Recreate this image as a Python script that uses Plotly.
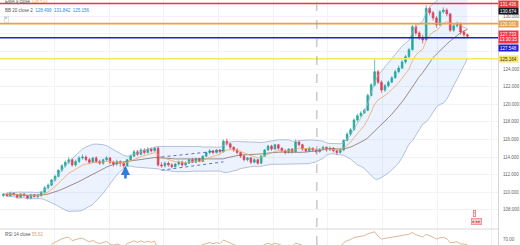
import plotly.graph_objects as go
import pandas as pd

# ---------------- data ----------------
closes = [109.8, 109.6, 109.9, 109.7, 109.4, 109.8, 109.6, 109.3, 109.7, 109.5, 109.6,
          110.0, 110.5, 110.8, 111.4, 111.8, 112.5, 113.0, 113.4, 113.7, 113.1, 113.5, 113.9,
          114.0, 113.7, 113.4, 113.9, 113.5, 113.3, 113.7, 113.9, 113.4, 113.2, 113.5, 113.3, 113.0,
          113.7, 114.1, 114.6, 114.3, 114.8, 114.5, 114.9, 114.7, 115.0,
          113.1,
          113.0, 113.3, 113.1, 112.9, 113.2, 113.4, 113.1, 113.3, 113.7, 113.4, 113.8, 113.5,
          114.1, 114.5, 114.7, 114.5, 114.8, 114.6,
          115.8,
          115.5, 115.1, 114.8, 114.5, 114.1, 113.7, 113.9, 113.4, 113.7, 113.3,
          114.1, 114.8, 115.25, 114.9, 115.4, 115.0,
          114.7, 114.5, 114.9, 114.6, 115.7, 115.4,
          114.9, 114.7, 115.0, 114.8, 114.6, 114.9, 115.1, 114.8, 115.0, 114.7, 114.5, 114.8,
          115.9, 116.6, 117.1,
          118.2, 118.7, 119.0, 119.3,
          121.0, 122.2, 123.7,
          122.5, 121.6,
          122.1, 122.5, 123.0, 123.7, 124.1, 124.8, 125.4, 126.2,
          128.8,
          128.1, 127.6, 127.3,
          130.9,
          130.4, 129.8, 129.0,
          130.5, 130.7, 130.25,
          128.4,
          128.9, 129.1, 128.2,
          127.9, 127.73]

highs = [109.9, 109.95, 110.0, 110.0, 109.8, 109.9, 109.9, 109.7, 109.8, 109.8, 109.8,
         110.1, 110.7, 111.0, 111.5, 112.0, 112.6, 113.2, 113.6, 114.0, 113.9, 113.7, 114.1,
         114.3, 114.2, 113.9, 114.0, 114.1, 113.7, 113.8, 114.1, 114.0, 113.6, 113.7, 113.6, 113.4,
         113.8, 114.3, 114.8, 114.8, 115.0, 115.0, 115.1, 115.1, 115.2,
         115.2,
         113.4, 113.5, 113.5, 113.3, 113.3, 113.6, 113.6, 113.5, 113.8, 113.9, 113.9, 113.9,
         114.2, 114.6, 114.9, 114.8, 114.9, 114.9,
         116.0,
         116.1, 115.6, 115.2, 115.0, 114.6, 114.3, 114.0, 114.0, 113.9, 113.8,
         114.2, 114.9, 115.4, 115.4, 115.5, 115.5,
         115.1, 114.9, 115.0, 115.0, 116.0, 115.9,
         115.5, 115.0, 115.2, 115.1, 114.9, 115.0, 115.3, 115.2, 115.2, 115.1, 114.8, 115.0,
         116.0, 116.8, 117.3,
         118.4, 118.9, 119.2, 119.5,
         121.2, 122.4, 125.1,
         123.9, 122.7,
         122.3, 122.7, 123.2, 123.9, 124.4, 125.0, 125.6, 126.4,
         129.0,
         129.1, 128.3, 127.9,
         131.25,
         131.1, 130.6, 130.0,
         130.7, 131.0, 130.9,
         130.4,
         129.2, 129.4, 129.3,
         128.4, 128.0]

lows = [109.5, 109.5, 109.5, 109.6, 109.3, 109.3, 109.5, 109.2, 109.2, 109.4, 109.3,
        109.5, 109.9, 110.3, 110.7, 111.2, 111.7, 112.3, 112.8, 113.2, 112.9, 112.9, 113.3,
        113.7, 113.5, 113.2, 113.3, 113.3, 113.1, 113.1, 113.5, 113.2, 112.9, 113.0, 112.9, 112.6,
        112.9, 113.6, 114.0, 114.1, 114.2, 114.3, 114.4, 114.5, 114.6,
        112.9,
        112.8, 112.8, 112.9, 112.7, 112.8, 113.0, 112.9, 113.0, 113.2, 113.3, 113.3, 113.4,
        113.4, 114.0, 114.3, 114.3, 114.4, 114.4,
        114.5,
        115.3, 114.9, 114.6, 114.3, 113.9, 113.5, 113.5, 113.2, 113.3, 113.1,
        113.2, 114.0, 114.7, 114.7, 114.8, 114.8,
        114.5, 114.3, 114.4, 114.4, 114.5, 115.2,
        114.7, 114.5, 114.6, 114.6, 114.4, 114.5, 114.8, 114.6, 114.7, 114.5, 114.2, 114.4,
        114.7, 115.8, 116.4,
        117.0, 118.0, 118.5, 118.9,
        119.2, 120.9, 122.0,
        122.3, 121.3,
        121.4, 121.9, 122.4, 122.9, 123.5, 124.0, 124.6, 125.3,
        126.1,
        127.8, 127.3, 126.9,
        127.2,
        130.1, 129.5, 128.7,
        128.9, 130.3, 130.0,
        128.2,
        128.2, 128.7, 127.9,
        127.5, 127.5]

first_open = 109.6
opens = [first_open] + closes[:-1]

price_ticks = [108, 110, 112, 114, 116, 118, 120, 122, 124, 126, 128, 130]
hidden_ticks = [126, 128]          # covered by the price boxes in the reference
tick_labels = ["" if v in hidden_ticks else "%.3f" % v for v in price_ticks]

# horizontal levels drawn on the chart
level_red = 131.436
level_orange = 129.161
level_blue = 127.548
level_yellow = 125.164
last_price = 127.733
marker_price = 130.674
rsi_ticks = [70]

# drawings
arrow_idx, arrow_head, arrow_tail = 35.5, 113.0, 111.4
channel_x = [46, 64]
channel_upper = [114.0, 114.75]
channel_lower = [112.5, 113.45]
vline_idx = 91.2

# ---------------- indicators from data ----------------
s = pd.Series(closes)
basis = s.rolling(20, min_periods=2).mean()
sd = s.rolling(20, min_periods=2).std(ddof=0)
upper = basis + 2 * sd
lower = basis - 2 * sd
ema9 = s.ewm(span=9, adjust=False).mean()
d = s.diff()
gain = d.clip(lower=0).ewm(alpha=1 / 14, adjust=False).mean()
loss = (-d.clip(upper=0)).ewm(alpha=1 / 14, adjust=False).mean()
rsi = 100 - 100 / (1 + gain / loss)
rsi[:14] = None

idx = list(range(len(closes)))

G = "#22ab94"
R = "#f23645"
FONT = "Liberation Sans, Arial, sans-serif"

fig = go.Figure()
fig.add_trace(go.Scatter(x=idx, y=upper, mode="lines", line=dict(color="#9fb3cf", width=0.8),
                         hoverinfo="skip"))
fig.add_trace(go.Scatter(x=idx, y=lower, mode="lines", line=dict(color="#9fb3cf", width=0.8),
                         fill="tonexty", fillcolor="rgba(66,135,245,0.10)", hoverinfo="skip"))
fig.add_trace(go.Scatter(x=idx, y=basis, mode="lines", line=dict(color="#8a6f66", width=0.8),
                         hoverinfo="skip"))
fig.add_trace(go.Scatter(x=idx, y=ema9, mode="lines", line=dict(color="#f4a460", width=0.8),
                         hoverinfo="skip"))
fig.add_trace(go.Candlestick(x=idx, open=opens, high=highs, low=lows, close=closes,
                             increasing=dict(line=dict(color=G, width=0.7), fillcolor=G),
                             decreasing=dict(line=dict(color=R, width=0.7), fillcolor=R),
                             whiskerwidth=0))
fig.add_trace(go.Scatter(x=idx, y=rsi, mode="lines", line=dict(color="#d9a27a", width=0.8),
                         yaxis="y2", hoverinfo="skip"))

H = 245
pane_split = 16 / H

def py(pix):
    return 1 - pix / H

shapes = []
for lvl, col, w in [(level_yellow, "#f5e663", 1.6), (level_blue, "#1f1fd0", 1.6),
                    (level_orange, "#eaa04a", 1.6), (level_red, "#e53935", 1.6)]:
    shapes.append(dict(type="line", xref="paper", x0=0, x1=1, yref="y", y0=lvl, y1=lvl,
                       line=dict(color=col, width=w)))
for yy in (channel_upper, channel_lower):
    shapes.append(dict(type="line", xref="x", yref="y", x0=channel_x[0], x1=channel_x[1],
                       y0=yy[0], y1=yy[1], line=dict(color="#5a6fc8", width=1, dash="dot")))
shapes.append(dict(type="line", xref="x", yref="paper", x0=vline_idx, x1=vline_idx, y0=0, y1=1,
                   line=dict(color="#9a9a9a", width=0.8, dash="dash")))
shapes.append(dict(type="line", xref="paper", yref="paper", x0=0, x1=1, y0=pane_split, y1=pane_split,
                   line=dict(color="#d8d8d8", width=1)))

ann = []

def box(y, text, bg, fg="white"):
    ann.append(dict(xref="paper", x=1.0, xanchor="left", yref="y", y=y, yanchor="middle",
                    text=text, showarrow=False, bgcolor=bg, font=dict(size=4.5, color=fg, family=FONT),
                    width=18, borderpad=0.5, align="center"))

box(131.44, "%.3f" % level_red, "#e53935")
box(130.55, "%.3f" % marker_price, "#131722")
box(129.11, "%.3f" % level_orange, "#eaa04a")
box(127.62, "%.3f<br>13:30:35" % last_price, "#f23645")
box(126.38, "%.3f" % level_blue, "#1f1fd0")
box(125.14, "%.3f" % level_yellow, "#f5e663", "#333333")

ann.append(dict(xref="paper", x=0.006, xanchor="left", yref="paper", y=py(1.0), yanchor="middle",
                text="EMA 9 close <span style='color:#f4a460'>%.3f</span>" % ema9.iloc[-1],
                showarrow=False, font=dict(size=4.5, color="#555555", family=FONT)))
ann.append(dict(xref="paper", x=0.006, xanchor="left", yref="paper", y=py(10), yanchor="middle",
                text="BB 20 close 2  <span style='color:#2a8bd8'>%.3f  %.3f  %.3f</span>"
                     % (basis.iloc[-1], upper.iloc[-1], lower.iloc[-1]),
                showarrow=False, font=dict(size=4.5, color="#555555", family=FONT)))
ann.append(dict(xref="paper", x=0.008, xanchor="left", yref="paper", y=py(19), yanchor="middle",
                text="^", showarrow=False, bordercolor="#cfcfcf", borderwidth=0.6, borderpad=0.5,
                bgcolor="white", font=dict(size=4.5, color="#555555", family=FONT)))
ann.append(dict(xref="paper", x=0.006, xanchor="left", yref="paper", y=py(234), yanchor="middle",
                text="RSI 14 close <span style='color:#d9a27a'>%.2f</span>" % rsi.iloc[-1],
                showarrow=False, font=dict(size=4.5, color="#555555", family=FONT)))
ann.append(dict(xref="x", x=arrow_idx, yref="y", y=arrow_head, axref="x", ax=arrow_idx,
                ayref="y", ay=arrow_tail, showarrow=True, arrowhead=2, arrowsize=0.7,
                arrowwidth=2.6, arrowcolor="#2e7de0", text=""))
# event icons near the bottom-right
ann.append(dict(xref="x", x=137, yref="y", y=107.6, text="!", showarrow=False,
                bgcolor="white", bordercolor="#e57373", borderwidth=0.8, borderpad=0.3,
                font=dict(size=4, color="#e53935", family=FONT)))
ann.append(dict(xref="x", x=137.5, yref="y", y=106.7, text="● ●●", showarrow=False,
                bgcolor="#f8c7cc", bordercolor="#e57373", borderwidth=0.6, borderpad=0.3,
                font=dict(size=4, color="#e53935", family=FONT)))

fig.update_layout(
    width=520, height=245, margin=dict(l=0, r=20, t=0, b=0),
    paper_bgcolor="white", plot_bgcolor="white", showlegend=False,
    font=dict(family=FONT, size=4.5, color="#666666"),
    shapes=shapes, annotations=ann,
    xaxis=dict(range=[-1.0, 143.9], showticklabels=False, rangeslider=dict(visible=False),
               showgrid=True, gridcolor="#f1f3f6", gridwidth=0.8, tick0=14.9, dtick=15.9,
               zeroline=False, anchor="y"),
    yaxis=dict(domain=[pane_split, 1], range=[105.82, 131.84], side="right",
               tickvals=price_ticks, ticktext=tick_labels, showgrid=True, gridcolor="#f1f3f6",
               gridwidth=0.8, zeroline=False, showline=True, linecolor="#d6d6d6", linewidth=1,
               ticks="", tickfont=dict(size=4.5, color="#666666"), ticklabelstandoff=3),
    yaxis2=dict(domain=[0, pane_split], range=[55, 95], side="right", anchor="x",
                tickvals=rsi_ticks, ticktext=["%.2f" % v for v in rsi_ticks], showgrid=False,
                zeroline=False, showline=True, linecolor="#d6d6d6", linewidth=1, ticks="",
                tickfont=dict(size=4.5, color="#666666"), ticklabelstandoff=3),
)

fig.write_html("out.html")
